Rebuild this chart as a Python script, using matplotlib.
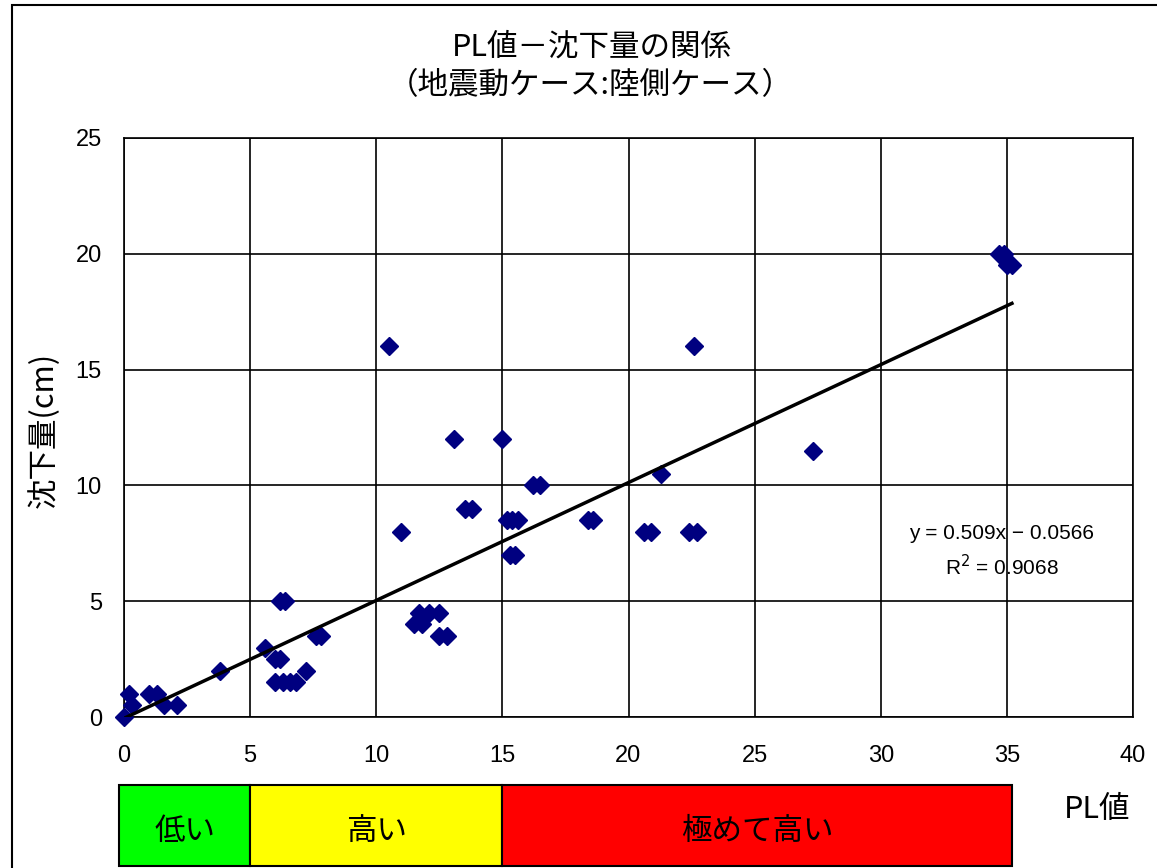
import matplotlib.pyplot as plt
import numpy as np
from matplotlib.patches import Rectangle

plt.rcParams['font.family'] = ['Noto Sans CJK JP', 'DejaVu Sans']

# PL値と沈下量(cm)の読み取り値
pl = [0.0, 0.2, 0.3, 1.0, 1.3, 1.6, 2.1, 3.8, 5.6, 6.0, 6.2, 6.2, 6.4,
      6.0, 6.3, 6.6, 6.8, 7.2, 7.6, 7.8, 10.5, 11.0, 11.5, 11.8, 11.7,
      12.1, 12.5, 12.5, 12.8, 13.1, 13.5, 13.8, 15.0, 15.2, 15.4, 15.6,
      15.3, 15.5, 16.2, 16.5, 18.4, 18.6, 20.6, 20.9, 21.3, 22.4, 22.7,
      22.6, 27.3, 34.7, 34.9, 35.0, 35.2]
settle = [0.0, 1.0, 0.5, 1.0, 1.0, 0.5, 0.5, 2.0, 3.0, 2.5, 2.5, 5.0, 5.0,
          1.5, 1.5, 1.5, 1.5, 2.0, 3.5, 3.5, 16.0, 8.0, 4.0, 4.0, 4.5,
          4.5, 4.5, 3.5, 3.5, 12.0, 9.0, 9.0, 12.0, 8.5, 8.5, 8.5,
          7.0, 7.0, 10.0, 10.0, 8.5, 8.5, 8.0, 8.0, 10.5, 8.0, 8.0,
          16.0, 11.5, 20.0, 20.0, 19.5, 19.5]

# 近似直線 y = 0.509x - 0.0566
slope, intercept = 0.509, -0.0566

# 危険度区分
zone_edges = [-0.2, 5, 15, 35.2]
zone_names = ['低い', '高い', '極めて高い']
zone_colors = ['#00ff00', '#ffff00', '#ff0000']

latin = ['Liberation Sans', 'DejaVu Sans']

W, H = 1157, 868
fig = plt.figure(figsize=(W / 100, H / 100), dpi=100)
fig.patches.append(Rectangle((12 / W, -0.1), 2, 1 - 5 / H + 0.1, transform=fig.transFigure,
                             fill=False, edgecolor='black', linewidth=1.5))

ax = fig.add_axes([124 / W, 1 - 717 / H, (1133 - 124) / W, (717 - 138) / H])
ax.set_xlim(0, 40)
ax.set_ylim(0, 25)
ax.set_xticks(range(0, 41, 5))
ax.set_yticks(range(0, 26, 5))
ax.grid(True, color='black', linewidth=1.2)
ax.set_axisbelow(True)
for s in ax.spines.values():
    s.set_linewidth(1.2)
ax.tick_params(length=0)
ax.tick_params(axis='x', pad=20)
ax.tick_params(axis='y', pad=16)
for lab in ax.get_xticklabels() + ax.get_yticklabels():
    lab.set_fontfamily(latin)
    lab.set_fontsize(17)

ax.plot(pl, settle, 'D', color='#000080', markersize=9, clip_on=False, zorder=3)
xx = np.array([min(pl), max(pl)])
ax.plot(xx, slope * xx + intercept, color='black', linewidth=2.5, zorder=4)

ax.text(34.8, 7.94, 'y = 0.509x − 0.0566', fontsize=15, family=latin, ha='center', va='center')
ax.text(34.8, 6.5, 'R$^2$ = 0.9068', fontsize=15, family=latin, ha='center', va='center')

ax.set_ylabel('沈下量(cm)', fontsize=22)
ax.yaxis.set_label_coords(-0.064, 0.496)
fig.text(592 / W, 1 - 47 / H, 'PL値－沈下量の関係', fontsize=22, ha='center', va='center')
fig.text(590 / W, 1 - 86 / H, '（地震動ケース:陸側ケース）', fontsize=22, ha='center', va='center')

# 区分バー
bx = fig.add_axes([124 / W, 1 - 866 / H, (1133 - 124) / W, (866 - 785) / H])
bx.set_xlim(0, 40)
bx.set_ylim(0, 1)
bx.axis('off')
for i, name in enumerate(zone_names):
    left, right = zone_edges[i], zone_edges[i + 1]
    bx.barh(0.5, right - left, left=left, height=1, color=zone_colors[i],
            edgecolor='black', linewidth=1.5, clip_on=False)
    bx.text((left + right) / 2, 0.42, name, fontsize=22, ha='center', va='center')
fig.text(1097 / W, 1 - 810 / H, 'PL値', fontsize=22, ha='center', va='center')

fig.savefig('out.png', dpi=100)
